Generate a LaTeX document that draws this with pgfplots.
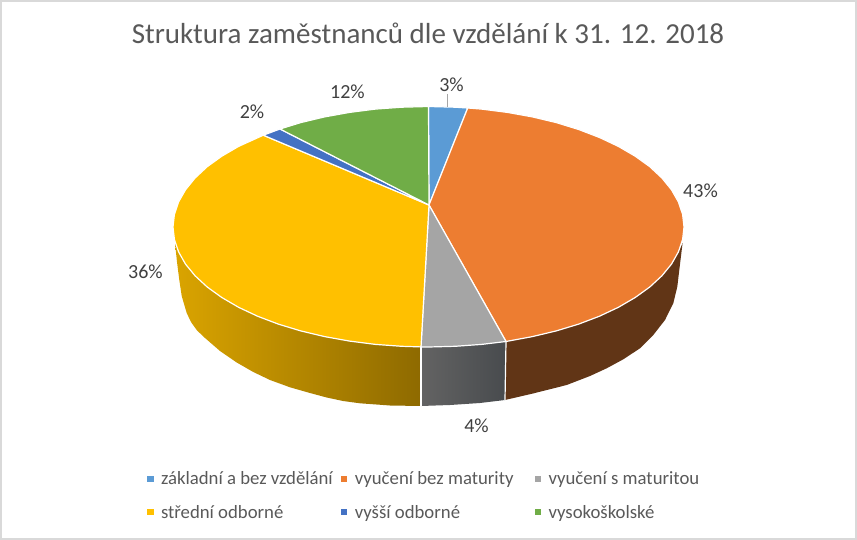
\documentclass[border=0pt]{standalone}
\usepackage{pgfplots}
\pgfplotsset{compat=1.18}
\usepackage{fontspec}
\setmainfont{Carlito}
\definecolor{cblue}{HTML}{5B9BD5}
\definecolor{corange}{HTML}{ED7D31}
\definecolor{cgray}{HTML}{A5A5A5}
\definecolor{cyellow}{HTML}{FFC000}
\definecolor{cdblue}{HTML}{4472C4}
\definecolor{cgreen}{HTML}{70AD47}
\definecolor{lab}{HTML}{404040}
\definecolor{txt}{HTML}{595959}
\definecolor{sideyl}{HTML}{DAA400}
\definecolor{sideyr}{HTML}{8E6A00}
\definecolor{sidegl}{HTML}{636363}
\definecolor{sidegr}{HTML}{484B4E}
\definecolor{sideo}{HTML}{613516}
\begin{document}
\begin{tikzpicture}
\begin{axis}[
  scale only axis, width=857pt, height=540pt,
  xmin=0, xmax=857, ymin=0, ymax=540, y dir=reverse,
  hide axis, clip=false,
  title={Struktura zaměstnanců dle vzdělání k 31. 12. 2018},
  title style={at={(axis cs:428,39)}, anchor=center, font=\fontsize{29}{32}\selectfont, text=txt, inner sep=0pt},
  legend columns=3,
  legend cell align=left,
  legend style={at={(axis cs:147,478)}, anchor=north west, yshift=8.5pt, draw=none, fill=none,
    font=\fontsize{18.75}{21}\selectfont, text=txt, inner sep=0pt, outer sep=0pt,
    /tikz/column 1/.style={column sep=5.5pt},
    /tikz/column 2/.style={column sep=6pt},
    /tikz/column 3/.style={column sep=5.5pt},
    /tikz/column 4/.style={column sep=19pt},
    /tikz/column 5/.style={column sep=5.5pt},
    /tikz/row sep=15pt},
  legend image code/.code={\fill[#1,draw=none] (0pt,-3.2pt) rectangle (6.5pt,3.2pt);},
]
% outer border
\addplot[forget plot, color=black!15, line width=2pt] coordinates {(1,1)(856,1)(856,539)(1,539)} -- cycle;
% side wall: yellow
\addplot[forget plot, draw=none, left color=sideyl, right color=sideyr] coordinates {
(421,347)(401.8,346.3)(375.4,344.4)(349.6,341.1)(324.6,336.6)(300.7,330.9)(278.3,324.1)(257.5,316.2)(238.6,307.3)(221.8,297.5)(207.2,287)(195.1,275.8)(185.5,264.1)(178.6,251.9)(175,243)
(177,262)(179.3,280)(181.7,296)(186.7,313)(191,322)(196.7,330)(203.3,336.5)(220,351)(236.7,362.5)(253.3,372)(270,380)(290,387.3)(310,393)(326.7,397.5)(343,401)(360,403.3)(390,405.5)(421,406)} -- cycle;
% side wall: gray
\addplot[forget plot, draw=none, left color=sidegl, right color=sidegr] coordinates {
(421,347)(455.2,346.3)(481.6,344.4)(506,341.5)(505,400)(480,403)(450,405)(421,406)} -- cycle;
% side wall: orange
\addplot[forget plot, draw=none, fill=sideo] coordinates {
(506,341.5)(532.4,336.6)(556.3,330.9)(578.7,324.1)(599.5,316.2)(618.4,307.3)(635.2,297.5)(649.8,287)(661.9,275.8)(671.5,264.1)(678.4,251.9)(682.6,243)
(681,256)(679.3,270)(677.3,286.7)(673.3,303.3)(665,320)(653.3,335)(640,348.3)(623.3,359.3)(606.7,368.3)(590,376)(566.7,385)(533,393.5)(505,400)} -- cycle;
% white seams between the side walls
\addplot[forget plot, color=white, line width=1.2pt] coordinates {(421,347)(421,406)};
\addplot[forget plot, color=white, line width=1.2pt] coordinates {(506,341.5)(505,400)};
% top: základní a bez vzdělání
\addplot[draw=white, line width=1.2pt, fill=cblue] coordinates {
(429,205)(428.5,106.5)(455.2,107.2)(467.7,108)} -- cycle;
\addlegendentry{základní a bez vzdělání}
% top: vyučení bez maturity
\addplot[draw=white, line width=1.2pt, fill=corange] coordinates {
(429,205)(467.7,108)(481.6,109.1)(507.4,112.4)(532.4,116.9)(556.3,122.6)(578.7,129.5)(599.5,137.5)(618.4,146.4)(635.2,156.2)(649.8,166.7)(661.9,178)(671.5,189.8)(678.4,201.9)(682.6,214.4)(684,227)
(682.6,239.5)(678.4,251.9)(671.5,264.1)(661.9,275.8)(649.8,287)(635.2,297.5)(618.4,307.3)(599.5,316.2)(578.7,324.1)(556.3,330.9)(532.4,336.6)(506,341.5)} -- cycle;
\addlegendentry{vyučení bez maturity}
% top: vyučení s maturitou
\addplot[draw=white, line width=1.2pt, fill=cgray] coordinates {
(429,205)(506,341.5)(481.6,344.4)(455.2,346.3)(428.5,347)(421,346.9)} -- cycle;
\addlegendentry{vyučení s maturitou}
% top: střední odborné
\addplot[draw=white, line width=1.2pt, fill=cyellow] coordinates {
(429,205)(421,346.9)(401.8,346.3)(375.4,344.4)(349.6,341.1)(324.6,336.6)(300.7,330.9)(278.3,324.1)(257.5,316.2)(238.6,307.3)(221.8,297.5)(207.2,287)(195.1,275.8)(185.5,264.1)(178.6,251.9)(174.4,239.5)(173,227)
(174.4,214.4)(178.6,201.9)(185.5,189.8)(195.1,178)(207.2,166.7)(221.8,156.2)(238.6,146.4)(263.3,135.2)} -- cycle;
\addlegendentry{střední odborné}
% top: vyšší odborné
\addplot[draw=white, line width=1.2pt, fill=cdblue] coordinates {
(429,205)(263.3,135.2)(280,129)} -- cycle;
\addlegendentry{vyšší odborné}
% top: vysokoškolské
\addplot[draw=white, line width=1.2pt, fill=cgreen] coordinates {
(429,205)(280,129)(300.7,122.6)(324.6,116.9)(349.6,112.4)(375.4,109.1)(401.8,107.2)(428.5,106.5)} -- cycle;
\addlegendentry{vysokoškolské}
% leader line
\addplot[forget plot, color=black!35, line width=1pt] coordinates {(447.7,94)(447.7,107)};
% data labels
\begin{scope}[every node/.style={font=\fontsize{20}{22}\selectfont, text=lab, inner sep=0pt}]
\node at (axis cs:451.5,85) {3\%};
\node at (axis cs:700.5,191) {43\%};
\node at (axis cs:476.5,426) {4\%};
\node at (axis cs:145.5,272) {36\%};
\node at (axis cs:252,112) {2\%};
\node at (axis cs:347.5,92) {12\%};
\end{scope}
\end{axis}
\end{tikzpicture}
\end{document}
